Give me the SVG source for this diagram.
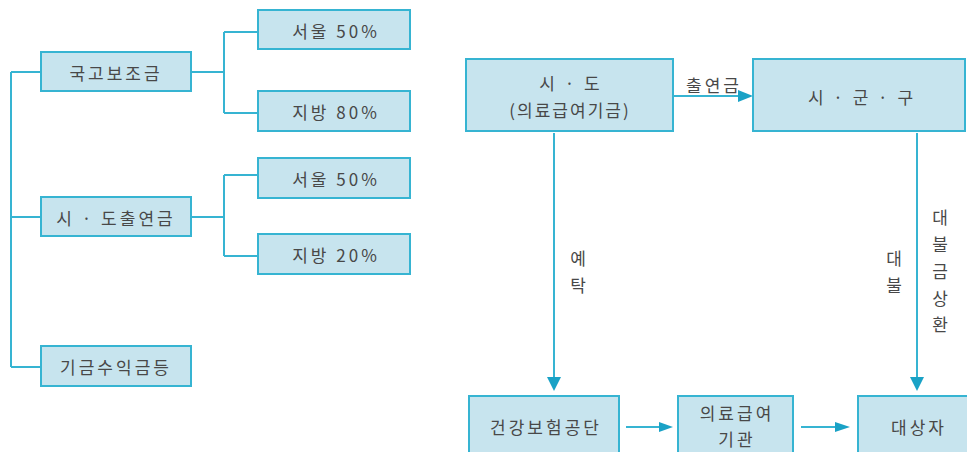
<svg xmlns="http://www.w3.org/2000/svg" width="967" height="452" viewBox="0 0 967 452">
<style>
.box{fill:#c7e4ee;stroke:#36b4d2;stroke-width:2}
.ln{fill:none;stroke:#36b4d2;stroke-width:2}
.t{font-family:"Noto Sans CJK KR","Noto Sans",sans-serif;font-size:17px;fill:#484848;text-anchor:middle;dominant-baseline:central;letter-spacing:3px}
.v{letter-spacing:0}
.ah{fill:#1aa2c6}
</style>
<rect width="967" height="452" fill="#fff"/>
<g id="connectors">
<path class="ln" d="M11 72V367M11 72H41M11 217H41M11 367H41"/>
<path class="ln" d="M191 72H224M224 32V113M224 32H258M224 113H258"/>
<path class="ln" d="M191 217H224M224 175V256M224 175H258M224 256H258"/>
<path class="ln" d="M673 96H740" stroke-width="1.5"/>
<polygon class="ah" points="738,90 753,96 738,102"/>
<path class="ln" d="M554 133V378"/>
<polygon class="ah" points="547,377 561,377 554,391"/>
<path class="ln" d="M917 133V378"/>
<polygon class="ah" points="910,377 924,377 917,391"/>
<path class="ln" d="M626 427H660" stroke-width="1.5"/>
<polygon class="ah" points="659,422 673,427 659,432"/>
<path class="ln" d="M801 427H836" stroke-width="1.5"/>
<polygon class="ah" points="835,422 850,427 835,432"/>
<text class="t" x="714" y="84">출연금</text>
<text class="t v" x="578" y="257">예</text>
<text class="t v" x="578" y="284">탁</text>
<text class="t v" x="894" y="257">대</text>
<text class="t v" x="894" y="284">불</text>
<text class="t v" x="940" y="216">대</text>
<text class="t v" x="940" y="243">불</text>
<text class="t v" x="940" y="270">금</text>
<text class="t v" x="940" y="297">상</text>
<text class="t v" x="940" y="323">환</text>
</g>
<g id="n-gukgo"><rect class="box" x="41" y="52" width="150" height="39"/><text class="t" x="116" y="72">국고보조금</text></g>
<g id="n-sido-chul"><rect class="box" x="41" y="197" width="150" height="39"/><text class="t" x="116" y="217">시 · 도출연금</text></g>
<g id="n-gigeum"><rect class="box" x="41" y="346" width="150" height="40"/><text class="t" x="116" y="366">기금수익금등</text></g>
<g id="n-seoul1"><rect class="box" x="258" y="10" width="152" height="39"/><text class="t" x="336" y="30">서울 50%</text></g>
<g id="n-jibang1"><rect class="box" x="258" y="91" width="152" height="40"/><text class="t" x="336" y="111">지방 80%</text></g>
<g id="n-seoul2"><rect class="box" x="258" y="158" width="152" height="40"/><text class="t" x="336" y="178">서울 50%</text></g>
<g id="n-jibang2"><rect class="box" x="258" y="234" width="152" height="40"/><text class="t" x="336" y="254">지방 20%</text></g>
<g id="n-sido"><rect class="box" x="466" y="59" width="207" height="72"/><text class="t" x="571" y="82">시 · 도</text><text class="t" x="570" y="109" style="letter-spacing:2px">(의료급여기금)</text></g>
<g id="n-sigungu"><rect class="box" x="753" y="59" width="212" height="72"/><text class="t" x="862" y="96">시 · 군 · 구</text></g>
<g id="n-gonggdan"><rect class="box" x="469" y="396" width="150" height="60"/><text class="t" x="546" y="426">건강보험공단</text></g>
<g id="n-gigwan"><rect class="box" x="678" y="396" width="115" height="60"/><text class="t" x="737" y="412">의료급여</text><text class="t" x="737" y="438">기관</text></g>
<g id="n-daesangja"><rect class="box" x="858" y="396" width="115" height="60"/><text class="t" x="919" y="426">대상자</text></g>
</svg>
